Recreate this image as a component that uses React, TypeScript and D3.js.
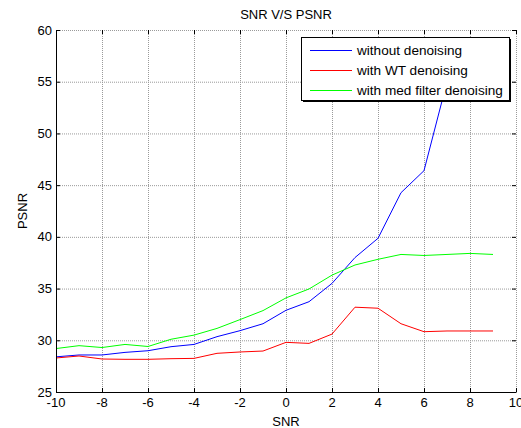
import React, { useEffect, useRef } from "react";
import * as d3 from "d3";

const snr = [-10, -9, -8, -7, -6, -5, -4, -3, -2, -1, 0, 1, 2, 3, 4, 5, 6, 7, 8, 9];
const withoutDenoising = [28.4, 28.58, 28.58, 28.83, 28.99, 29.38, 29.6, 30.35, 30.93, 31.6, 32.9, 33.73, 35.5, 38.0, 39.86, 44.27, 46.4, 55.0, 57.5, 59.0];
const withWT = [28.29, 28.48, 28.19, 28.16, 28.16, 28.22, 28.25, 28.74, 28.87, 28.96, 29.8, 29.7, 30.6, 33.2, 33.1, 31.6, 30.83, 30.9, 30.9, 30.9];
const withMed = [29.2, 29.48, 29.3, 29.6, 29.4, 30.1, 30.5, 31.15, 32.0, 32.87, 34.1, 34.96, 36.3, 37.28, 37.83, 38.3, 38.2, 38.3, 38.4, 38.3];
const xTicks = [-10, -8, -6, -4, -2, 0, 2, 4, 6, 8, 10];
const yTicks = [25, 30, 35, 40, 45, 50, 55, 60];
const seriesNames = ["without denoising", "with WT denoising", "with med filter denoising"];
const seriesColors = ["#0000ff", "#ff0000", "#00ff00"];

export default function App() {
  const ref = useRef<SVGSVGElement>(null);
  useEffect(() => {
    document.body.style.margin = "0";
    const svg = d3.select(ref.current);
    svg.selectAll("*").remove();
    const W = 521, H = 428;
    const L = 56, R = 516, T = 30, B = 392;
    const x = d3.scaleLinear().domain([-10, 10]).range([L, R]);
    const y = d3.scaleLinear().domain([25, 60]).range([B, T]);
    const font = "'Liberation Sans', Arial, sans-serif";
    const fs = 13;

    svg.append("rect").attr("width", W).attr("height", H).attr("fill", "#fff");

    svg.append("defs").append("clipPath").attr("id", "pc")
      .append("rect").attr("x", L).attr("y", T).attr("width", R - L).attr("height", B - T);

    const g = svg.append("g");
    xTicks.forEach((t) => {
      if (t === -10) return;
      g.append("line").attr("x1", x(t) + 0.5).attr("x2", x(t) + 0.5).attr("y1", T).attr("y2", B)
        .attr("stroke", "#9a9a9a").attr("stroke-width", 1).attr("stroke-dasharray", "1,1");
    });
    yTicks.forEach((t) => {
      if (t === 25) return;
      g.append("line").attr("x1", L).attr("x2", R).attr("y1", y(t) + 0.5).attr("y2", y(t) + 0.5)
        .attr("stroke", "#9a9a9a").attr("stroke-width", 1).attr("stroke-dasharray", "1,1");
    });

    const line = d3.line<number>().x((_, i) => x(snr[i])).y((d) => y(d));
    const data = [withoutDenoising, withWT, withMed];
    const lg = svg.append("g").attr("clip-path", "url(#pc)");
    data.forEach((d, i) => {
      lg.append("path").attr("d", line(d)!).attr("fill", "none")
        .attr("stroke", seriesColors[i]).attr("stroke-width", 1);
    });

    svg.append("line").attr("x1", L + 0.5).attr("x2", L + 0.5).attr("y1", T).attr("y2", B + 0.5)
      .attr("stroke", "#000");
    svg.append("line").attr("x1", L).attr("x2", R + 0.5).attr("y1", B + 0.5).attr("y2", B + 0.5)
      .attr("stroke", "#000");

    xTicks.forEach((t) => {
      svg.append("line").attr("x1", x(t) + 0.5).attr("x2", x(t) + 0.5).attr("y1", B).attr("y2", B - 4)
        .attr("stroke", "#000");
      svg.append("line").attr("x1", x(t) + 0.5).attr("x2", x(t) + 0.5).attr("y1", T).attr("y2", T + 4)
        .attr("stroke", "#000");
      svg.append("text").attr("x", x(t)).attr("y", B + 15).attr("text-anchor", "middle")
        .attr("font-family", font).attr("font-size", fs).text(String(t));
    });
    yTicks.forEach((t) => {
      svg.append("line").attr("x1", L).attr("x2", L + 4).attr("y1", y(t) + 0.5).attr("y2", y(t) + 0.5)
        .attr("stroke", "#000");
      svg.append("line").attr("x1", R - 4).attr("x2", R).attr("y1", y(t) + 0.5).attr("y2", y(t) + 0.5)
        .attr("stroke", "#000");
      svg.append("text").attr("x", L - 4).attr("y", y(t) + 4.5).attr("text-anchor", "end")
        .attr("font-family", font).attr("font-size", fs).text(String(t));
    });

    svg.append("text").attr("x", (L + R) / 2).attr("y", 19).attr("text-anchor", "middle")
      .attr("font-family", font).attr("font-size", fs).text("SNR V/S PSNR");
    svg.append("text").attr("x", (L + R) / 2).attr("y", 426).attr("text-anchor", "middle")
      .attr("font-family", font).attr("font-size", fs).text("SNR");
    svg.append("text").attr("transform", `translate(27,${(T + B) / 2}) rotate(-90)`)
      .attr("text-anchor", "middle").attr("font-family", font).attr("font-size", fs).text("PSNR");

    const lx = 301, ly = 37, lw = 208, lh = 63;
    svg.append("rect").attr("x", lx + 2).attr("y", ly + 2).attr("width", lw).attr("height", lh).attr("fill", "#000");
    svg.append("rect").attr("x", lx + 0.5).attr("y", ly + 0.5).attr("width", lw).attr("height", lh)
      .attr("fill", "#fff").attr("stroke", "#000");
    seriesNames.forEach((n, i) => {
      const cy = 50 + i * 20;
      svg.append("line").attr("x1", 310).attr("x2", 352).attr("y1", cy + 0.5).attr("y2", cy + 0.5)
        .attr("stroke", seriesColors[i]).attr("stroke-width", 1);
      svg.append("text").attr("x", 357).attr("y", cy + 5).attr("font-family", font).attr("font-size", 13.6).text(n);
    });
  }, []);
  return <svg ref={ref} width={521} height={428} style={{ display: "block" }} />;
}
